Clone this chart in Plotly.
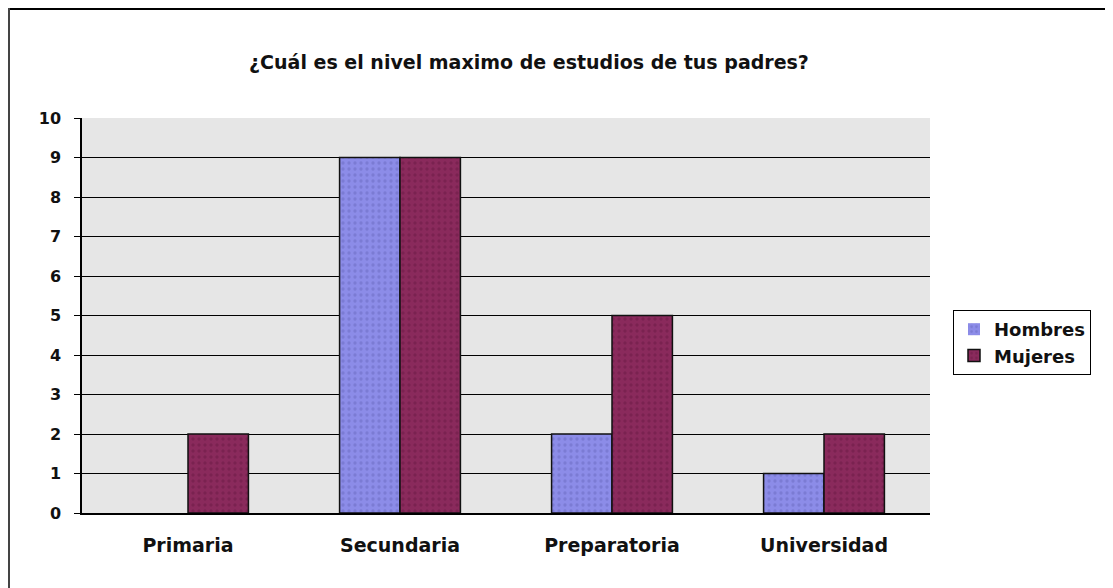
import plotly.graph_objects as go

categorias = ["Primaria", "Secundaria", "Preparatoria", "Universidad"]
hombres = [0, 9, 2, 1]
mujeres = [2, 9, 5, 2]
y_ticks = list(range(0, 11))

# the page puts the figure 8px in from the top-left corner
OFF = 8
W, H = 1113 - OFF, 588 - OFF
L, R, T, B = 82 - OFF, 183, 118 - OFF, 75
pw, ph = W - L - R, H - T - B

def px_x(x):
    return (x - OFF - L) / pw

def px_y(y):
    return (H - B - (y - OFF)) / ph

outline = dict(color="#111111", width=[0 if v == 0 else 1.5 for v in hombres])
fig = go.Figure()
fig.add_trace(go.Bar(x=categorias, y=hombres, name="<b>Hombres</b>",
                     marker=dict(color="#8c8ce8", line=outline,
                                 pattern=dict(shape=".", fgcolor="#6a6ac0",
                                              size=6, solidity=0.25))))
fig.add_trace(go.Bar(x=categorias, y=mujeres, name="<b>Mujeres</b>",
                     marker=dict(color="#8a2a5c",
                                 line=dict(color="#111111", width=1.5),
                                 pattern=dict(shape=".", fgcolor="#6a1a44",
                                              size=6, solidity=0.25))))

fig.update_layout(
    width=W, height=H,
    margin=dict(l=L, r=R, t=T, b=B, autoexpand=False),
    paper_bgcolor="white",
    plot_bgcolor="#e6e6e6",
    barmode="group", bargap=0.43, bargroupgap=0,
    font=dict(family="DejaVu Sans, Arial, sans-serif", color="#111111"),
    title=dict(text="<b>¿Cuál es el nivel maximo de estudios de tus padres?</b>",
               x=px_x(529), xref="paper", xanchor="center",
               y=1 - (62 - OFF) / H, yanchor="middle", font=dict(size=19)),
    showlegend=True,
    legend=dict(x=px_x(953), xref="paper", y=px_y(310), yref="paper",
                xanchor="left", yanchor="top",
                bordercolor="black", borderwidth=1, bgcolor="white",
                font=dict(size=18), itemwidth=30, tracegroupgap=2),
    xaxis=dict(showline=True, linecolor="black", linewidth=1.5,
               ticks="", tickfont=dict(size=19), showgrid=False,
               ticklabelstandoff=14,
               tickvals=categorias, ticktext=[f"<b>{c}</b>" for c in categorias]),
    yaxis=dict(range=[0, 10], tickvals=y_ticks, ticktext=[f"<b>{v}</b>" for v in y_ticks],
               showline=True, linecolor="black",
               linewidth=1.5, ticks="outside", ticklen=6, tickcolor="black",
               tickfont=dict(size=16), gridcolor="black", gridwidth=1,
               ticklabelstandoff=10, zeroline=False),
)

# outer frame (top and left edges of the picture)
fig.add_shape(type="line", xref="paper", yref="paper",
              x0=px_x(OFF), x1=px_x(1113), y0=px_y(OFF + 1), y1=px_y(OFF + 1),
              line=dict(color="black", width=2))
fig.add_shape(type="line", xref="paper", yref="paper",
              x0=px_x(OFF + 1), x1=px_x(OFF + 1), y0=px_y(OFF), y1=px_y(588),
              line=dict(color="#444444", width=2))

fig.write_html("out.html")
